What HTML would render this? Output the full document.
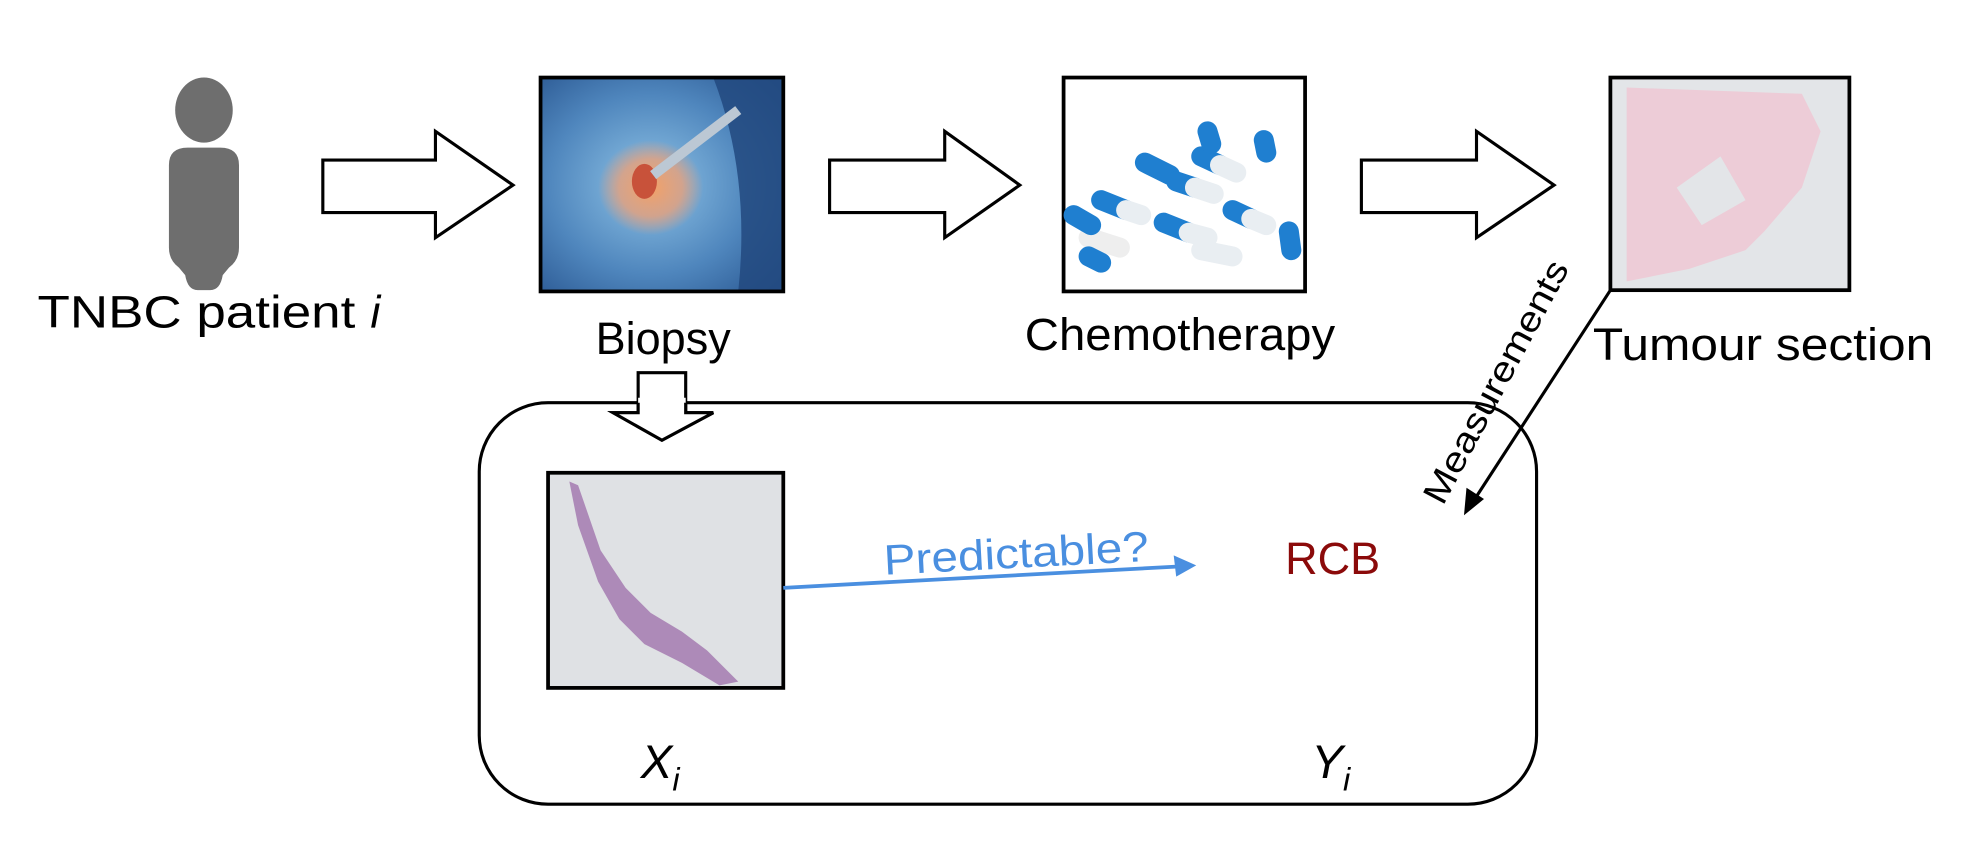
<!DOCTYPE html>
<html><head><meta charset="utf-8"><style>
html,body{margin:0;padding:0;background:#fff;}
svg{display:block;}
text{font-family:"Liberation Sans","DejaVu Sans",sans-serif;}
</style></head><body>
<svg width="1962" height="868" viewBox="0 0 1568 694" preserveAspectRatio="none" xmlns="http://www.w3.org/2000/svg">
<defs>
<radialGradient id="bio" cx="0.45" cy="0.5" r="0.7"><stop offset="0" stop-color="#8fc3e6"/><stop offset="0.6" stop-color="#4f86bd"/><stop offset="1" stop-color="#2c5a94"/></radialGradient>
<radialGradient id="tum" cx="0.5" cy="0.5" r="0.5"><stop offset="0" stop-color="#f2a066"/><stop offset="0.6" stop-color="#e8a07a" stop-opacity="0.8"/><stop offset="1" stop-color="#e8a07a" stop-opacity="0"/></radialGradient>
</defs>

<!-- person -->
<g fill="#6e6e6e">
<ellipse cx="163" cy="88" rx="23" ry="26"/>
<path d="M150,118 h26 q15,0 15,14 v66 q0,10 -8,16 l-5,6 v0 q-2,12 -10,12 h-10 q-8,0 -10,-12 l-5,-6 q-8,-6 -8,-16 v-66 q0,-14 15,-14z"/>
</g>
<text x="30" y="262" font-size="36" textLength="254" lengthAdjust="spacingAndGlyphs">TNBC patient</text>
<text x="296" y="262" font-size="36" font-style="italic">i</text>

<!-- arrows -->
<path d="M258,128 H348 V105 L410,148 L348,190 V170 H258Z" fill="#fff" stroke="#000" stroke-width="2.5"/>
<path d="M663,128 H755 V105 L815,148 L755,190 V170 H663Z" fill="#fff" stroke="#000" stroke-width="2.5"/>
<path d="M1088,128 H1180 V105 L1242,148 L1180,190 V170 H1088Z" fill="#fff" stroke="#000" stroke-width="2.5"/>

<!-- biopsy image -->
<g>
<rect x="432" y="62" width="194" height="171" fill="url(#bio)"/>
<path d="M570,62 Q600,140 590,233 H626 V62Z" fill="#22497f" opacity="0.85"/>
<ellipse cx="520" cy="150" rx="42" ry="38" fill="url(#tum)"/>
<ellipse cx="515" cy="145" rx="10" ry="14" fill="#c8523a"/>
<line x1="522" y1="140" x2="590" y2="88" stroke="#bcc8d4" stroke-width="8"/>
<rect x="432" y="62" width="194" height="171" fill="none" stroke="#000" stroke-width="3"/>
</g>
<text x="530" y="283" font-size="36" text-anchor="middle">Biopsy</text>

<!-- chemo image -->
<g>
<rect x="850" y="62" width="193" height="171" fill="#fff" stroke="#000" stroke-width="3"/>
<g stroke-linecap="round" stroke-width="16">
<line x1="870" y1="190" x2="895" y2="198" stroke="#fff" style="stroke:#eee"/>
<line x1="858" y1="172" x2="872" y2="180" stroke="#1f7fd0"/>
<line x1="880" y1="160" x2="900" y2="168" stroke="#1f7fd0"/>
<line x1="900" y1="168" x2="912" y2="172" stroke="#e9eef2"/>
<line x1="915" y1="130" x2="935" y2="140" stroke="#1f7fd0"/>
<line x1="940" y1="145" x2="955" y2="150" stroke="#1f7fd0"/>
<line x1="955" y1="150" x2="970" y2="155" stroke="#e9eef2"/>
<line x1="960" y1="125" x2="975" y2="132" stroke="#1f7fd0"/>
<line x1="975" y1="132" x2="988" y2="138" stroke="#e9eef2"/>
<line x1="930" y1="178" x2="950" y2="186" stroke="#1f7fd0"/>
<line x1="950" y1="186" x2="965" y2="190" stroke="#e9eef2"/>
<line x1="985" y1="168" x2="1000" y2="175" stroke="#1f7fd0"/>
<line x1="1000" y1="175" x2="1012" y2="180" stroke="#e9eef2"/>
<line x1="1030" y1="185" x2="1032" y2="200" stroke="#1f7fd0"/>
<line x1="1010" y1="112" x2="1012" y2="122" stroke="#1f7fd0"/>
<line x1="965" y1="105" x2="968" y2="115" stroke="#1f7fd0"/>
<line x1="870" y1="205" x2="880" y2="210" stroke="#1f7fd0"/>
<line x1="960" y1="200" x2="985" y2="205" stroke="#e9eef2"/>
</g>
</g>
<text x="943" y="280" font-size="36" text-anchor="middle" textLength="248" lengthAdjust="spacingAndGlyphs">Chemotherapy</text>

<!-- tumour section -->
<g>
<rect x="1287" y="62" width="191" height="170" fill="#e3e5e8"/>
<path d="M1300,70 L1440,75 L1455,105 L1440,150 L1410,185 L1395,200 L1350,215 L1300,225 Z" fill="#efc8d4" opacity="0.85"/>
<path d="M1340,150 L1375,125 L1395,160 L1360,180Z" fill="#e3e5e8"/>
<rect x="1287" y="62" width="191" height="170" fill="none" stroke="#000" stroke-width="3"/>
</g>
<text x="1273" y="288" font-size="36" textLength="272" lengthAdjust="spacingAndGlyphs">Tumour section</text>

<!-- down arrow -->
<path d="M510,298 H548 V330 H570 L529,352 L490,330 H510Z" fill="#fff" stroke="#000" stroke-width="2.5"/>

<!-- rounded box -->
<rect x="383" y="322" width="845" height="321" rx="55" ry="55" fill="none" stroke="#000" stroke-width="2.5"/>
<path d="M510,318 H548 V330 H570 L529,352 L490,330 H510Z" fill="#fff" stroke="none"/>
<path d="M510,322 V330 H490 L529,352 L570,330 H548 V322" fill="none" stroke="#000" stroke-width="2.5"/>

<!-- X image -->
<g>
<rect x="438" y="378" width="188" height="172" fill="#dfe1e4"/>
<path d="M455,385 L462,388 L480,440 L500,470 L520,490 L545,505 L565,520 L590,545 L575,548 L545,530 L515,515 L495,495 L478,465 L462,420 Z" fill="#a57ab0" opacity="0.85"/>
<rect x="438" y="378" width="188" height="172" fill="none" stroke="#000" stroke-width="3"/>
</g>

<!-- predictable arrow -->
<line x1="626" y1="470" x2="940" y2="453" stroke="#4a8fe0" stroke-width="3"/>
<path d="M956,452 L938,444 L940,461Z" fill="#4a8fe0"/>
<text x="812" y="454" font-size="34" fill="#4a8fe0" text-anchor="middle" transform="rotate(-3 812 440)" textLength="212" lengthAdjust="spacingAndGlyphs">Predictable?</text>

<text x="1065" y="459" font-size="36" fill="#8b0a0a" text-anchor="middle">RCB</text>

<!-- measurements -->
<line x1="1287" y1="232" x2="1178" y2="400" stroke="#000" stroke-width="2.5"/>
<path d="M1170,412 L1172,390 L1186,399Z" fill="#000"/>
<text x="1195" y="315" font-size="28" text-anchor="middle" transform="rotate(-62 1195 305)" textLength="216" lengthAdjust="spacingAndGlyphs">Measurements</text>

<text x="512" y="622" font-size="38" font-style="italic">X<tspan font-size="26" dy="10">i</tspan></text>
<text x="1048" y="622" font-size="38" font-style="italic">Y<tspan font-size="26" dy="10">i</tspan></text>
</svg>
</body></html>
